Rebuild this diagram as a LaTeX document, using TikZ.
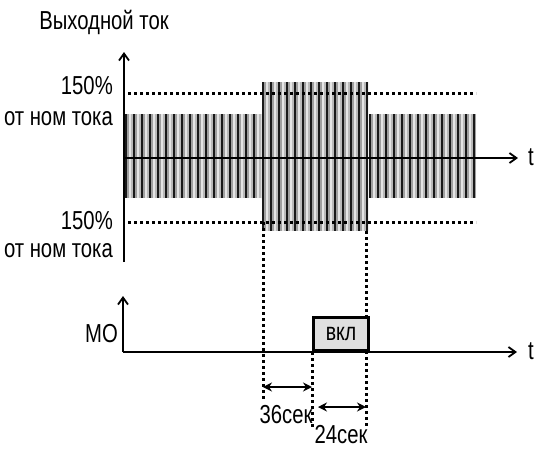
\documentclass[tikz,border=0pt]{standalone}
\usepackage{fontspec}
\setmainfont{Liberation Sans}[FakeStretch=0.78]
\usetikzlibrary{arrows.meta, positioning}
\tikzset{
  lbl/.style={inner sep=0pt, font=\fontsize{26}{28}\selectfont},
  axis/.style={line width=2.8pt, -{Straight Barb[length=7pt,width=10pt,line width=1.8pt]}},
  dotline/.style={line width=3pt, dash pattern=on 3pt off 3pt},
  span/.style={line width=2.6pt, {Stealth[length=9pt,width=9pt]}-{Stealth[length=9pt,width=9pt]}},
  onbox/.style={draw, fill=gray!25, line width=3pt, minimum width=55pt, minimum height=33pt, inner sep=0pt, anchor=south west, font=\fontsize{25}{27}\selectfont}
}
% striped current band: x1, x2, top, bottom
\newcommand{\curband}[4]{%
  \fill[gray!55] (#1,#3) rectangle (#2,#4);
  \pgfmathtruncatemacro{\nstr}{(#2-#1)/8}
  \foreach \k [evaluate=\k as \x using #1+8*\k] in {0,...,\nstr} {
    \fill[black!90] (\x,#3) rectangle ({min(\x+2.4,#2)},#4);
    \fill[gray!75] ({min(\x+2.4,#2)},#3) rectangle ({min(\x+4,#2)},#4);
    \fill[gray!20] ({min(\x+4,#2)},#3) rectangle ({min(\x+5.8,#2)},#4);
  }
}

\begin{document}
\begin{tikzpicture}[x=1pt,y=-1pt]
\useasboundingbox (0,0) rectangle (536,448);

% bands
\curband{125}{261}{114}{198}
\curband{262}{368}{82}{231}
\curband{369}{476}{114}{198}

% points
\coordinate (o1) at (124,158);
\coordinate (y1) at (124,52);
\coordinate (y1b) at (124,262);
\coordinate (t1e) at (518,158);
\coordinate (o2) at (123,352);
\coordinate (y2) at (123,296);
\coordinate (t2e) at (517,352);
\coordinate (hiL) at (128,93);
\coordinate (hiR) at (476,93);
\coordinate (loL) at (128,222);
\coordinate (loR) at (476,222);
\coordinate (v1a) at (263,222);
\coordinate (v1b) at (263,400);
\coordinate (v2a) at (312,352);
\coordinate (v2b) at (312,428);
\coordinate (v3a) at (366,231);
\coordinate (v3b) at (366,428);

% limits
\draw[dotline] (hiL) -- (hiR);
\draw[dotline] (loL) -- (loR);
\draw[dotline] (v1a) -- (v1b);
\draw[dotline] (v2a) -- (v2b);
\draw[dotline] (v3a) -- (v3b);

% MO on
\node[onbox] (on) at (312,352) {вкл};

% axes
\draw[axis] (y1b) -- (y1);
\draw[axis] (o1) -- (t1e);
\draw[axis] (o2) -- (y2);
\draw[axis] (o2) -- (t2e);

% labels
\node[lbl] (ylab) at (104,22) {Выходной ток};
\node[lbl, anchor=east] (pcthi) at (113,86) {150\%};
\node[lbl, anchor=east] (nomhi) at (113,119) {от ном тока};
\node[lbl, anchor=east] (pctlo) at (113,221) {150\%};
\node[lbl, anchor=east] (nomlo) at (113,251) {от ном тока};
\node[lbl] (t1) at (531,157) {t};
\node[lbl] (t2) at (531,351) {t};
\node[lbl, anchor=east] (mo) at (118,334) {МО};

% delays
\coordinate (a36) at (263,387);
\coordinate (b36) at (312,387);
\coordinate (a24) at (318,407);
\coordinate (b24) at (366,407);
\draw[span] (a36) -- (b36);
\draw[span] (a24) -- (b24);
\node[lbl, anchor=base] (s36) at (286,423) {36сек};
\node[lbl, anchor=base] (s24) at (341,443) {24сек};
\end{tikzpicture}
\end{document}
